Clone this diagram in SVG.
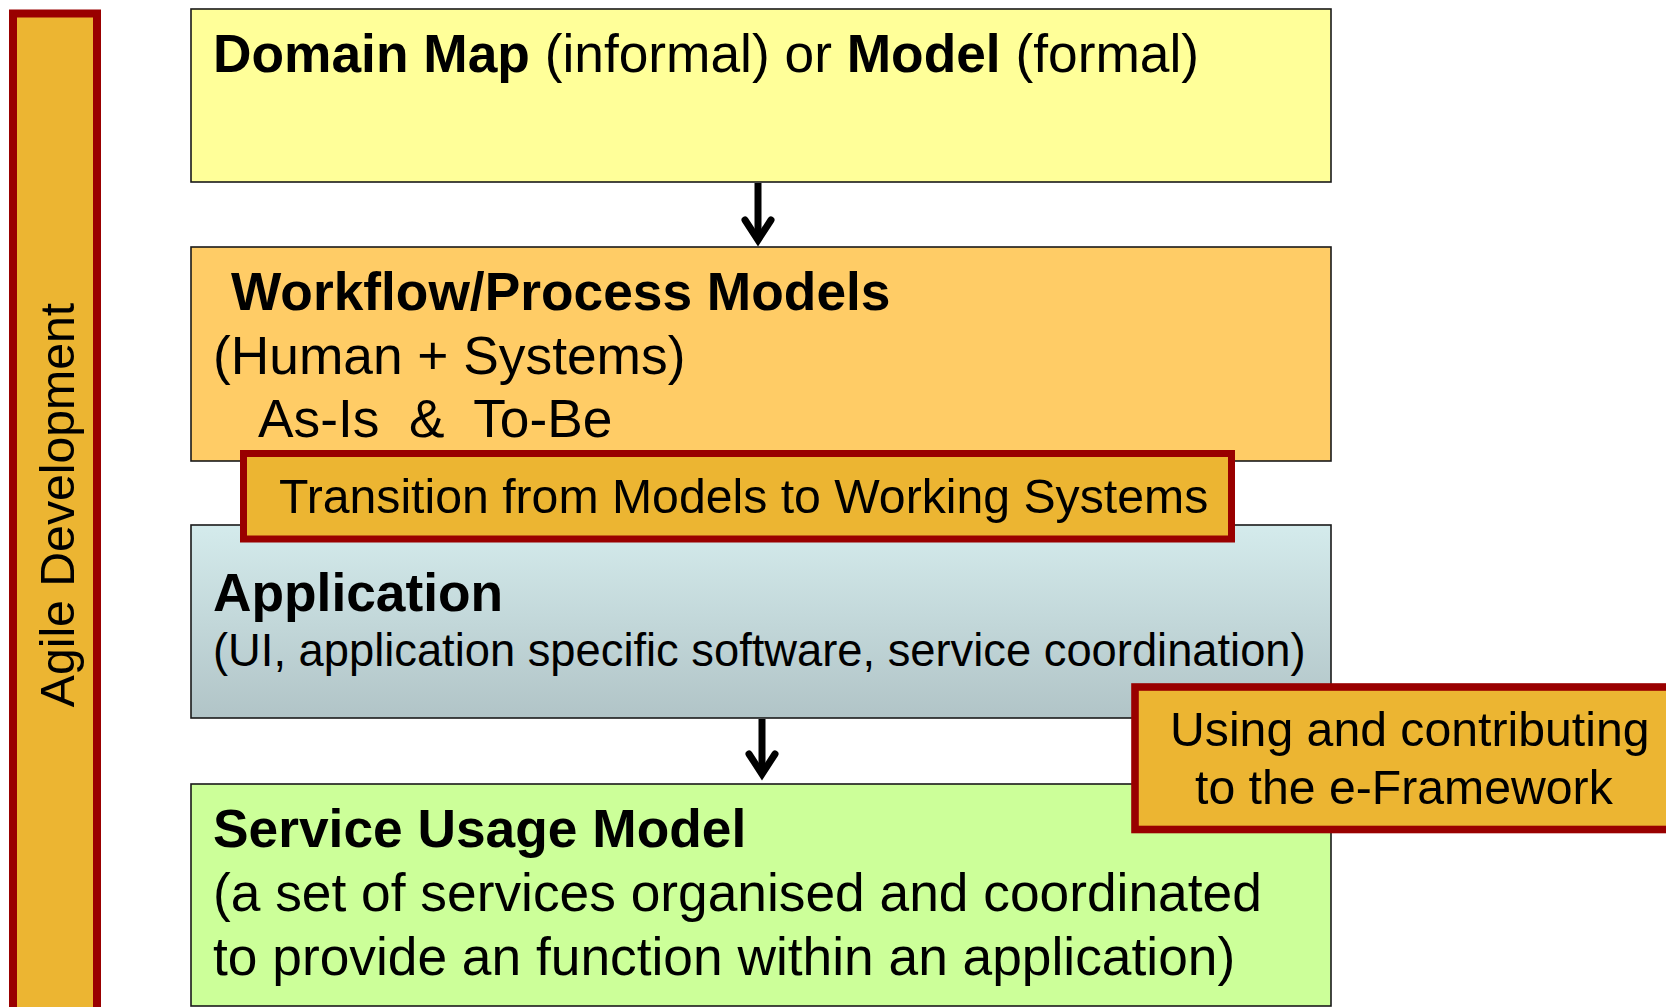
<svg xmlns="http://www.w3.org/2000/svg" width="1666" height="1007" viewBox="0 0 1666 1007">
<style>
  text { font-family: "Liberation Sans", Arial, sans-serif; fill: #000; }
  .box { stroke: #1a1a1a; stroke-width: 1.6; }
  .tag { fill: #ecb532; stroke: #990000; }
  .b { font-weight: bold; }
  .t53 { font-size: 53.3px; }
  .t48 { font-size: 48.2px; }
  .t45 { font-size: 45.3px; }
  .conn { stroke: #000; stroke-width: 7; fill: none; stroke-linecap: butt; }
</style>
<defs>
  <linearGradient id="appGrad" x1="0" y1="0" x2="0" y2="1">
    <stop offset="0" stop-color="#d4ebec"/>
    <stop offset="1" stop-color="#b1c4c7"/>
  </linearGradient>
  <marker id="arrow" markerUnits="userSpaceOnUse" orient="auto" refX="0" refY="0" markerWidth="40" markerHeight="40" overflow="visible">
    <polyline points="-20,-13 0,0 -20,13" fill="none" stroke="#000" stroke-width="7" stroke-linecap="round" stroke-linejoin="miter" stroke-miterlimit="10"/>
  </marker>
</defs>

<g id="agile">
  <rect class="tag" x="13" y="13.5" width="84" height="1010" stroke-width="8"/>
  <text class="t48" transform="translate(74,505) rotate(-90)" text-anchor="middle">Agile Development</text>
</g>

<g id="domain">
  <rect class="box" x="191" y="9" width="1140" height="173" fill="#ffff99"/>
  <text class="t53" x="213" y="72"><tspan class="b">Domain Map</tspan> (informal) or <tspan class="b">Model</tspan> (formal)</text>
</g>

<g id="workflow">
  <rect class="box" x="191" y="247" width="1140" height="214" fill="#ffcc66"/>
  <text class="t53 b" x="231" y="310">Workflow/Process Models</text>
  <text class="t53" x="213" y="374">(Human + Systems)</text>
  <text class="t53" x="258" y="437" xml:space="preserve">As-Is  &amp;  To-Be</text>
</g>

<g id="application">
  <rect class="box" x="191" y="525" width="1140" height="193" fill="url(#appGrad)"/>
  <text class="t53 b" x="213" y="611">Application</text>
  <text class="t45" x="213" y="666">(UI, application specific software, service coordination)</text>
</g>

<g id="transition">
  <rect class="tag" x="243.5" y="453.5" width="988" height="85.5" stroke-width="7"/>
  <text class="t48" x="279" y="513">Transition from Models to Working Systems</text>
</g>

<g id="service">
  <rect class="box" x="191" y="784" width="1140" height="222" fill="#ccff99"/>
  <text class="t53 b" x="213" y="847">Service Usage Model</text>
  <text class="t53" x="213" y="911">(a set of services organised and coordinated</text>
  <text class="t53" x="213" y="975">to provide an function within an application)</text>
</g>

<g id="eframework">
  <rect class="tag" x="1135" y="687" width="600" height="142.5" stroke-width="7.6"/>
  <text class="t48" x="1170" y="746">Using and contributing</text>
  <text class="t48" x="1195" y="804">to the e-Framework</text>
</g>

<g id="connectors">
  <line class="conn" x1="758" y1="183" x2="758" y2="240" marker-end="url(#arrow)"/>
  <line class="conn" x1="762" y1="719" x2="762" y2="774" marker-end="url(#arrow)"/>
</g>
</svg>
